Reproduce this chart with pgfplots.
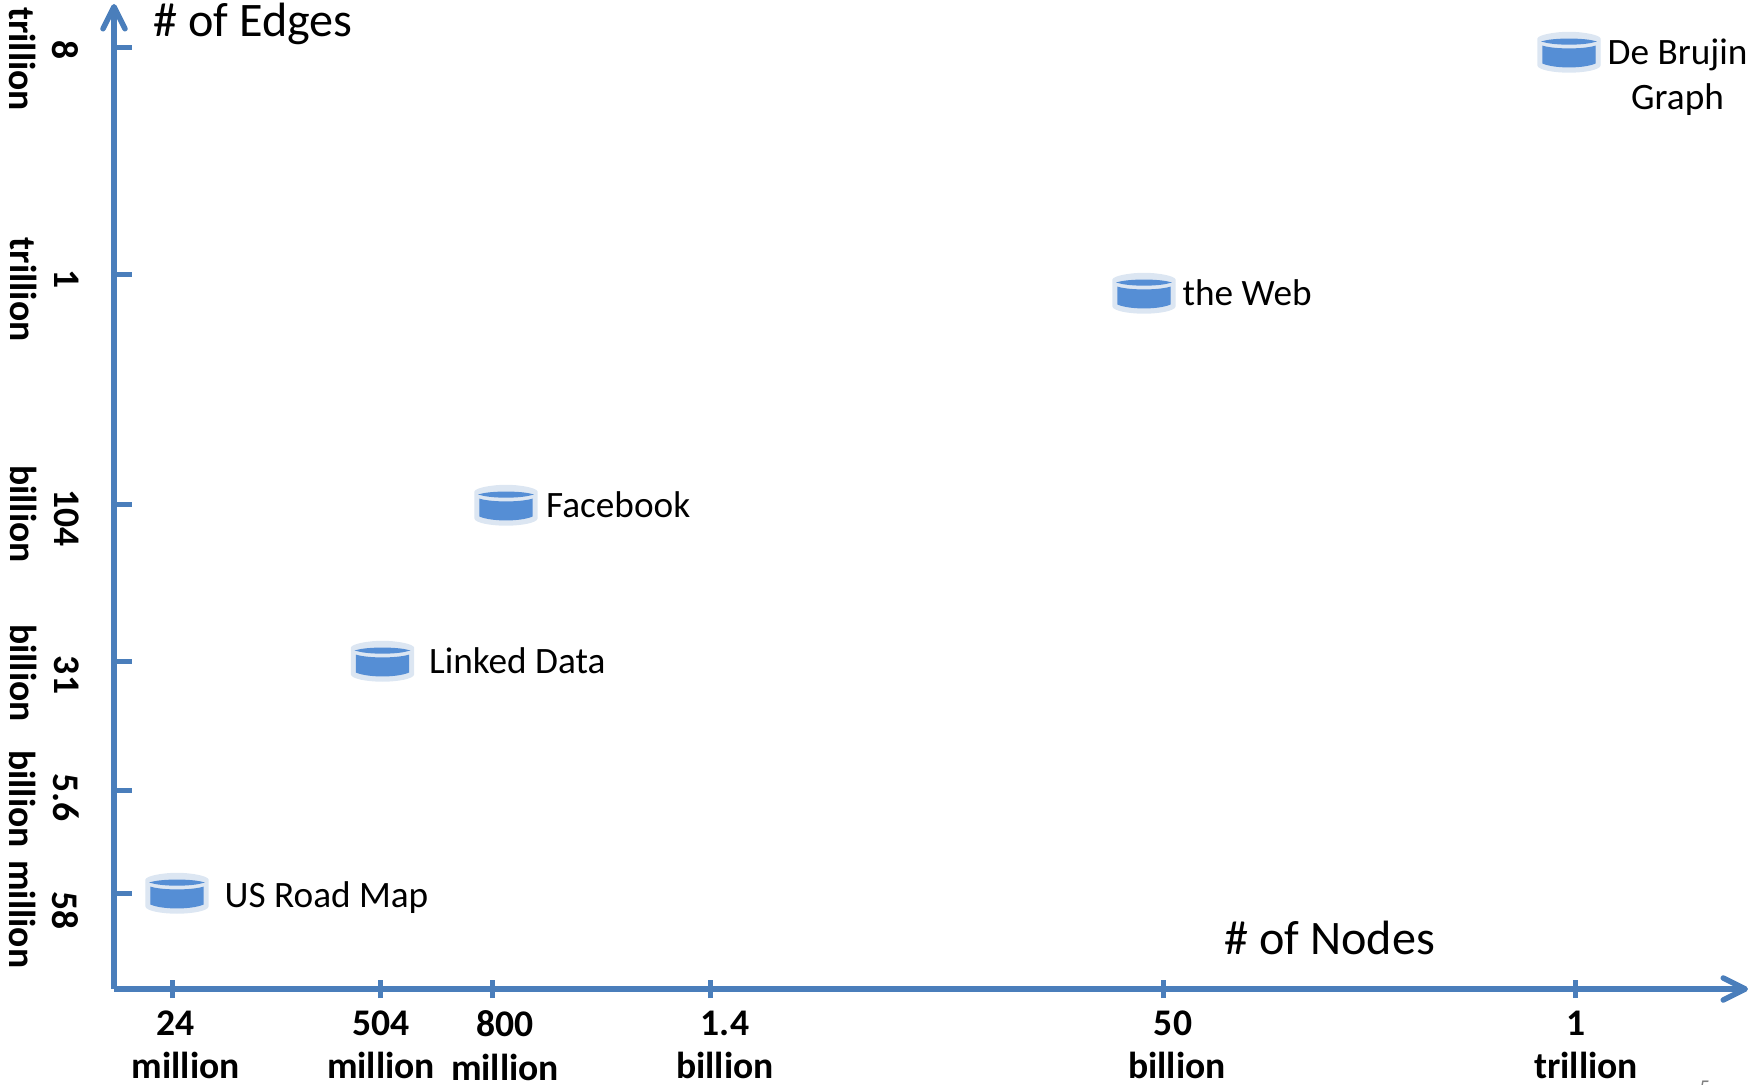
\documentclass[border=0pt]{standalone}
\usepackage{pgfplots}
\usepackage{pgfplotstable}
\usepackage{fontspec}
\setmainfont{Carlito}
\pgfplotsset{compat=1.18}
\usetikzlibrary{arrows.meta}

\definecolor{axisblue}{HTML}{4A7EBB}
\definecolor{dbblue}{HTML}{558ED5}
\definecolor{dbhalo}{HTML}{DCE6F2}

% Two-line tick label; each line has its own offset along the axis (in tenths of a mm).
\newcommand\tl[4]{\makebox[0pt]{\hspace*{#1\dimexpr0.2mm\relax}#2}\\\makebox[0pt]{\hspace*{#3\dimexpr0.2mm\relax}#4}}

% Database cylinder symbol.
\pgfdeclareplotmark{dbicon}{%
  \begin{scope}[x=0.1mm,y=0.1mm]
    \fill[dbhalo] (-31,-13) -- (-31,13) .. controls (-31,16) and (-16,19.5) .. (0,19.5)
      .. controls (16,19.5) and (31,16) .. (31,13) -- (31,-13)
      .. controls (31,-17) and (16,-20) .. (0,-20) .. controls (-16,-20) and (-31,-17) .. (-31,-13) -- cycle;
    \fill[dbblue] (-25,10.5) .. controls (-14,13.5) and (14,13.5) .. (25,10.5)
      .. controls (14,7.2) and (-14,7.2) .. (-25,10.5) -- cycle;
    \fill[dbblue] (-26,5.5) .. controls (-14,2) and (14,2) .. (26,5.5) -- (26,-11)
      .. controls (14,-16) and (-14,-16) .. (-26,-11) -- cycle;
  \end{scope}
}

% Data sets: position on each axis, name, label offset.
\pgfplotstableread[col sep=semicolon]{
x;y;name;dx;dy
63;96;US Road Map;47;-5
268.5;328;Linked Data;46;0
392;484;Facebook;39.5;0
1030;696;the Web;38;0
1455;937;{De Brujin\\Graph};38;-25
}\graphsets

\begin{document}
\begin{tikzpicture}
\clip (0,0) rectangle (17.48,10.84);
\begin{axis}[
  at={(11.4mm,9.5mm)},
  anchor=south west,
  scale only axis,
  width=163.4mm, height=98.5mm,
  xmin=0, xmax=1634, ymin=0, ymax=985,
  axis lines=left,
  clip=false,
  axis line style={draw=axisblue, line width=0.55mm,
    -{Straight Barb[length=2.2mm,width=2.2mm,round]}},
  tick style={draw=axisblue, line width=0.5mm},
  xtick align=center,
  ytick align=inside,
  minor tick num=0,
  major tick length=1.8mm,
  xtick={58.7,267,379,597,1049,1461},
  ytick={96,199,328,485,714,941},
  xticklabels={
    {\tl{3}{24}{13}{million}},
    {\tl{0}{504}{0}{million}},
    {\tl{12}{800}{12}{million}},
    {\tl{14}{1.4}{14}{billion}},
    {\tl{10}{50}{14}{billion}},
    {\tl{1}{1}{11}{trillion}}},
  yticklabels={
    {\tl{17.8}{58}{21.3}{million}},
    {\tl{7.7}{5.6}{9}{billion}},
    {\tl{14}{31}{12}{billion}},
    {\tl{14}{104}{10}{billion}},
    {\tl{4}{1}{14.5}{trillion}},
    {\tl{2.5}{8}{11}{trillion}}},
  tick label style={font=\fontsize{10.7}{12.4}\selectfont\bfseries, align=center, inner sep=0pt},
  xticklabel style={anchor=north, yshift=-1.2mm},
  yticklabel style={rotate=-90, anchor=north, yshift=-3.45mm},
  nodes near coords,
  nodes near coords style={font=\fontsize{10.6}{12.8}\selectfont, anchor=west,
    align=center, inner sep=0pt, xshift=\dx*0.1mm, yshift=\dy*0.1mm},
  point meta=explicit symbolic,
  visualization depends on={\thisrow{dx}\as\dx},
  visualization depends on={\thisrow{dy}\as\dy},
]
\addplot[only marks, mark=dbicon] table[x=x, y=y, meta=name] {\graphsets};
\node[anchor=west, inner sep=0pt, font=\fontsize{13.7}{16}\selectfont] at (axis cs:39,965) {\# of Edges};
\node[anchor=west, inner sep=0pt, font=\fontsize{13.7}{16}\selectfont] at (axis cs:1110,51) {\# of Nodes};
\node[anchor=north, inner sep=0pt, text=gray, font=\fontsize{6}{7}\selectfont] at (axis cs:1591,-91) {5};
\end{axis}
\end{tikzpicture}
\end{document}
